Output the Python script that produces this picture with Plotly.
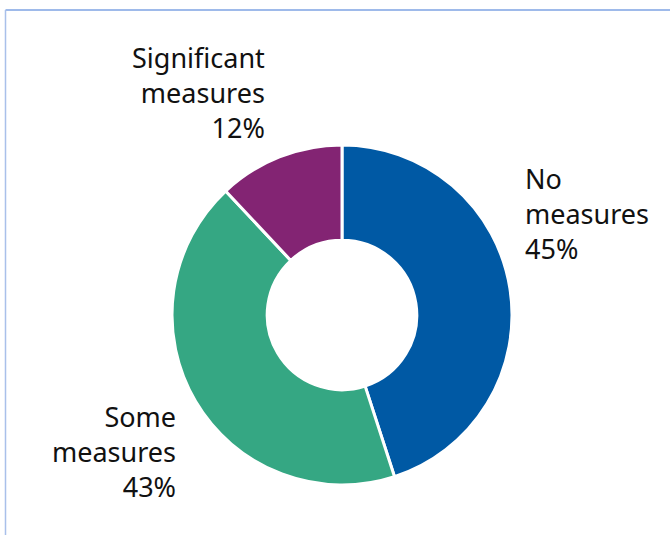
import plotly.graph_objects as go

labels = ["No measures", "Some measures", "Significant measures"]
values = [45, 43, 12]
colors = ["#0059a4", "#35a783", "#832473"]
label_text = ["No<br>measures<br>45%", "Some<br>measures<br>43%", "Significant<br>measures<br>12%"]

W, H = 670, 535
cx, cy, R = 342, 315, 170

fig = go.Figure(go.Pie(
    labels=labels, values=values, hole=0.44, sort=False,
    direction="clockwise", rotation=0,
    marker=dict(colors=colors, line=dict(color="white", width=3)),
    textinfo="none", hoverinfo="label+percent", showlegend=False,
    domain=dict(x=[(cx - R) / W, (cx + R) / W], y=[(H - cy - R) / H, (H - cy + R) / H]),
))

font = dict(family="Noto Sans, Open Sans, sans-serif", size=27, color="#111111")
# annotation positions (pixels): x, y-center, anchor
pos = [(523, 213, "left"), (178, 451, "right"), (267, 93, "right")]
for txt, (x, y, anc) in zip(label_text, pos):
    fig.add_annotation(text=txt, x=x / W, y=1 - y / H, xref="paper", yref="paper",
                       xanchor=anc, yanchor="middle", align=anc, showarrow=False, font=font)

line = dict(color="#7ea3e3", width=1.5)
fig.add_shape(type="line", xref="paper", yref="paper", x0=5.5 / W, x1=1.01, y0=1 - 10 / H, y1=1 - 10 / H, line=line)
fig.add_shape(type="line", xref="paper", yref="paper", x0=5.5 / W, x1=5.5 / W, y0=1 - 10 / H, y1=-0.01, line=dict(color="#a9c0ea", width=1.5))

fig.update_layout(width=W, height=H, margin=dict(l=0, r=0, t=0, b=0),
                  paper_bgcolor="white", plot_bgcolor="white")
fig.write_html("out.html")
